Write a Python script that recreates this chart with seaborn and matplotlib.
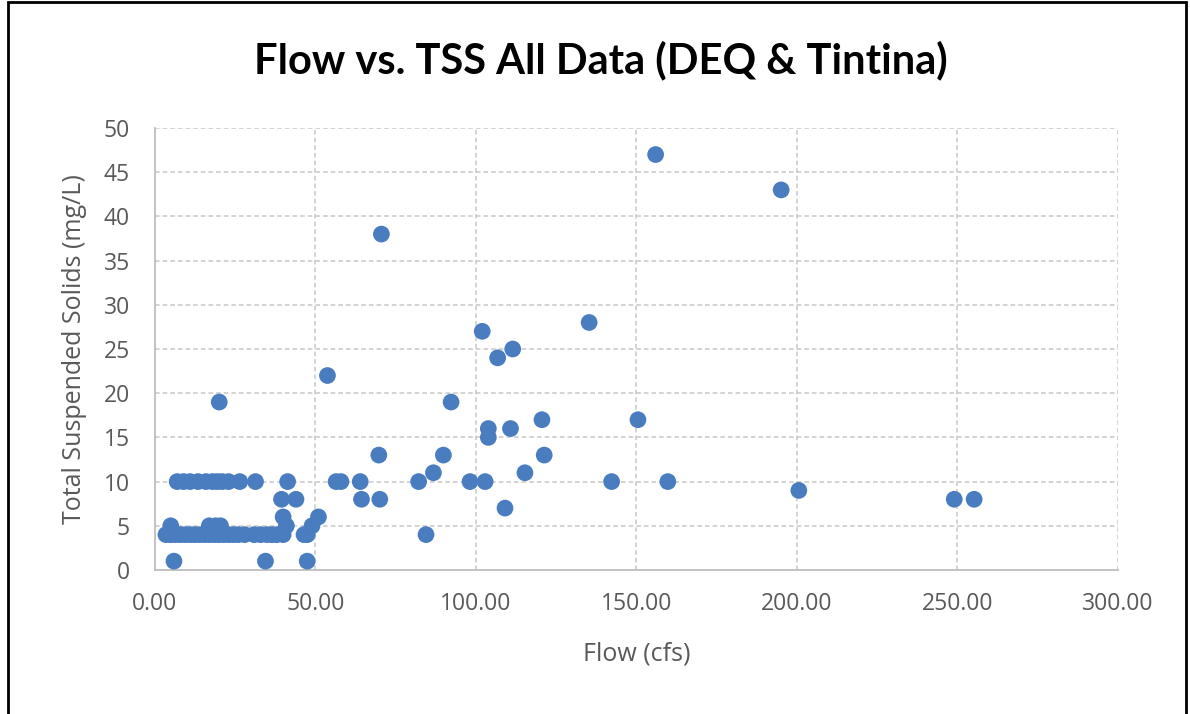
import numpy as np
import pandas as pd
import matplotlib
matplotlib.use("Agg")
import matplotlib.pyplot as plt
import seaborn as sns
from matplotlib.patches import Rectangle
from matplotlib.ticker import FuncFormatter

# flow (cfs) and TSS (mg/L)
flow = [
    # TSS 4 band
    3.5, 5, 6.5, 8, 9.5, 11, 12.5, 14, 15.5, 17, 18.5, 20, 21.5, 23, 24.5, 26,
    28, 31, 33, 35, 36.5, 38, 40, 46.5, 47.5, 84.5,
    # TSS 5
    5, 17, 19, 20.5, 41, 49,
    # TSS 1
    6, 34.5, 47.5,
    # TSS 10
    7, 9, 11, 13.5, 16, 18, 19.5, 21, 23, 26.5, 31.4, 41.4, 56.5, 58, 64,
    82.2, 98.2, 102.9, 142.3, 159.8,
    # misc
    40, 51, 39.5, 44, 64.4, 70.1, 109.1, 249, 255.2, 200.6,
    86.8, 115.3, 89.9, 69.8, 121.3, 103.9, 103.9, 110.8,
    120.6, 150.5, 20.1, 92.3, 53.8, 106.8, 111.5, 102.0, 135.3,
    70.6, 195.1, 156.0,
]
tss = [
    4, 4, 4, 4, 4, 4, 4, 4, 4, 4, 4, 4, 4, 4, 4, 4,
    4, 4, 4, 4, 4, 4, 4, 4, 4, 4,
    5, 5, 5, 5, 5, 5,
    1, 1, 1,
    10, 10, 10, 10, 10, 10, 10, 10, 10, 10, 10, 10, 10, 10, 10,
    10, 10, 10, 10, 10,
    6, 6, 8, 8, 8, 8, 7, 8, 8, 9,
    11, 11, 13, 13, 13, 16, 15, 16,
    17, 17, 19, 19, 22, 24, 25, 27, 28,
    38, 43, 47,
]

df = pd.DataFrame({"Flow": flow, "TSS": tss})

sns.set_theme(style="white")
plt.rcParams['font.family'] = ['Open Sans', 'DejaVu Sans']

fig = plt.figure(figsize=(11.9, 7.14), dpi=100)
ax = fig.add_axes([0.130, 0.2017, 0.8095, 0.619])

sns.scatterplot(data=df, x="Flow", y="TSS", ax=ax, color="#4a7dbf",
                s=145, edgecolor="none", zorder=3)

ax.set_xlim(0, 300)
ax.set_ylim(0, 50)
ax.set_xticks(np.arange(0, 301, 50))
ax.set_yticks(np.arange(0, 51, 5))
ax.xaxis.set_major_formatter(FuncFormatter(lambda v, p: f"{v:.2f}"))
ax.grid(True, color="#c8c8c8", linestyle=(0, (3, 2)), linewidth=1.1)

for side in ["top", "right"]:
    ax.spines[side].set_visible(False)
for side in ["left", "bottom"]:
    ax.spines[side].set_color("#bfbfbf")
    ax.spines[side].set_linewidth(1.3)

ax.tick_params(axis="both", labelsize=16.5, colors="#595959", length=0)
ax.tick_params(axis="x", pad=16)
ax.tick_params(axis="y", pad=18)
ax.set_xlabel("Flow (cfs)", fontsize=18, color="#595959", labelpad=18)
ax.set_ylabel("Total Suspended Solids (mg/L)", fontsize=18, color="#595959", labelpad=12)

fig.text(0.505, 0.915, "Flow vs. TSS All Data (DEQ & Tintina)", ha="center", va="center",
         fontsize=30, fontweight="bold", family=["Lato", "DejaVu Sans"], color="black")

fig.patches.append(Rectangle((0.007, -0.05), 0.990, 1.047, transform=fig.transFigure,
                             fill=False, edgecolor="black", linewidth=2))

fig.savefig("out.png", dpi=100)
